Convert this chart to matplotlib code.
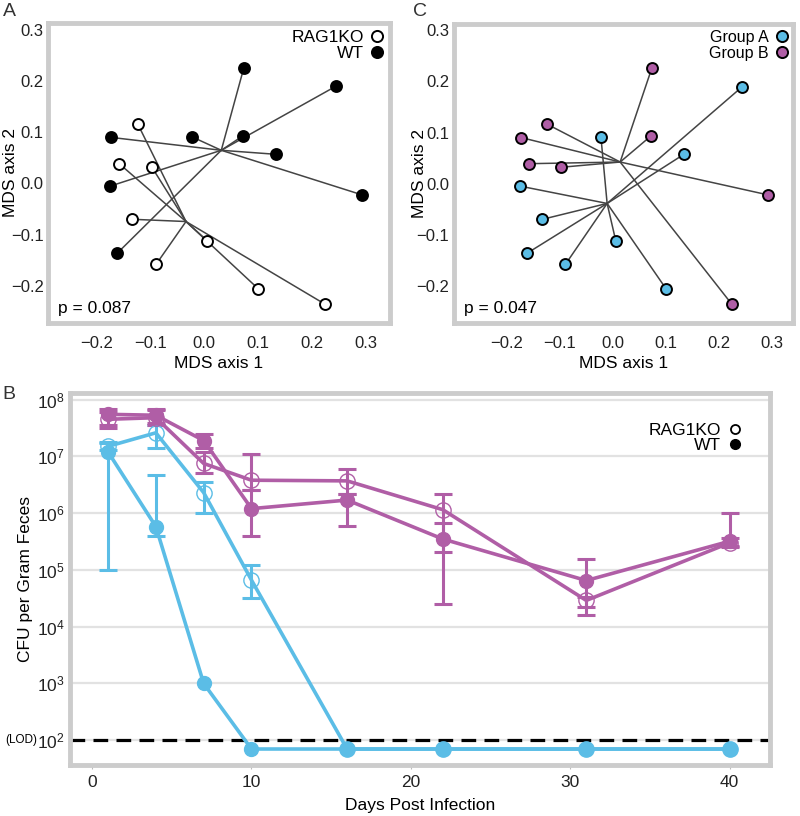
import numpy as np
import matplotlib
matplotlib.use("Agg")
import matplotlib.pyplot as plt
from matplotlib.lines import Line2D
from matplotlib.transforms import blended_transform_factory

plt.rcParams['font.family'] = ['Liberation Sans', 'DejaVu Sans']
plt.rcParams['mathtext.default'] = 'regular'

# MDS ordination (same 17 samples in panels A and C)
mds_x = [0.074, 0.245, -0.172, -0.022, 0.072, 0.134, 0.293, -0.174, -0.161,
         -0.123, -0.158, -0.097, -0.133, 0.006, -0.089, 0.101, 0.225]
mds_y = [0.226, 0.190, 0.090, 0.091, 0.093, 0.057, -0.022, -0.005, -0.136,
         0.116, 0.039, 0.032, -0.070, -0.112, -0.158, -0.206, -0.236]
genotype = ['WT'] * 9 + ['RAG1KO'] * 8
group = ['B', 'A', 'B', 'A', 'B', 'A', 'B', 'A', 'A',
         'B', 'B', 'B', 'A', 'A', 'A', 'A', 'B']
p_genotype = 0.087
p_group = 0.047

# CFU time course (panel B)
days = [1, 4, 7, 10, 16, 22, 31, 40]
a_ko = [1.5e7, 2.6e7, 2.3e6, 6.6e4, 70, 70, 70, 70]
a_ko_lo = [1.3e7, 1.4e7, 1.0e6, 3.2e4, np.nan, np.nan, np.nan, np.nan]
a_ko_hi = [1.8e7, 3.5e7, 3.5e6, 1.2e5, np.nan, np.nan, np.nan, np.nan]
a_wt = [1.2e7, 5.8e5, 1.0e3, 70, 70, 70, 70, 70]
a_wt_lo = [1.0e5, 4.0e5, np.nan, np.nan, np.nan, np.nan, np.nan, np.nan]
a_wt_hi = [1.7e7, 4.7e6, np.nan, np.nan, np.nan, np.nan, np.nan, np.nan]
b_ko = [4.5e7, 4.8e7, 7.5e6, 3.8e6, 3.7e6, 1.15e6, 2.9e4, 3.0e5]
b_ko_lo = [3.2e7, 3.6e7, 5.0e6, 2.6e6, 2.2e6, 2.1e5, 2.2e4, 2.5e5]
b_ko_hi = [6.0e7, 6.5e7, 1.2e7, 1.1e7, 5.9e6, 2.2e6, 3.4e4, 3.7e5]
b_wt = [5.5e7, 5.3e7, 1.9e7, 1.2e6, 1.7e6, 3.5e5, 6.5e4, 3.2e5]
b_wt_lo = [3.5e7, 3.8e7, 1.4e7, 4.0e5, 6.0e5, 2.5e4, 1.6e4, 2.6e5]
b_wt_hi = [6.9e7, 6.8e7, 2.5e7, 2.6e6, 2.2e6, 6.7e5, 1.55e5, 1.02e6]
lod = 100

BLUE = '#5bbde6'
PURPLE = '#b05ea6'
FRAME = '#cccccc'
TXT = '#222222'


def style_frame(ax):
    for s in ax.spines.values():
        s.set_color(FRAME)
        s.set_linewidth(3.5)


def mds_panel(ax, labels, order, faces, edges, legend_names, pval, xlim, ylim,
              ylab_x, leg_size):
    x = np.array(mds_x)
    y = np.array(mds_y)
    lab = np.array(labels)
    # spokes to group centroids
    for g in order:
        m = lab == g
        cx, cy = x[m].mean(), y[m].mean()
        for xi, yi in zip(x[m], y[m]):
            ax.plot([cx, xi], [cy, yi], color='#444444', lw=1.1, zorder=1)
    for g in order:
        m = lab == g
        ax.scatter(x[m], y[m], s=62, facecolor=faces[g], edgecolor=edges[g],
                   linewidth=1.4, zorder=3)
    ax.set_xlim(*xlim)
    ax.set_ylim(*ylim)
    ticks = [-0.2, -0.1, 0.0, 0.1, 0.2, 0.3]
    names = ['\u22120.2', '\u22120.1', '0.0', '0.1', '0.2', '0.3']
    ax.set_xticks(ticks)
    ax.set_yticks(ticks)
    ax.set_xticklabels(names)
    ax.set_yticklabels(names)
    ax.tick_params(axis='x', length=0, labelsize=12, colors=TXT, pad=9)
    ax.tick_params(axis='y', length=0, labelsize=12, colors=TXT, pad=3)
    ax.set_xlabel('MDS axis 1', fontsize=12.5, labelpad=4)
    ax.set_ylabel('MDS axis 2', fontsize=12.5)
    ax.yaxis.set_label_coords(ylab_x, 0.5)
    style_frame(ax)
    ax.text(0.03, 0.025, f'p = {pval}', transform=ax.transAxes, fontsize=12.5,
            ha='left', va='bottom')
    handles = [Line2D([], [], ls='none', marker='o', markersize=8,
                      markerfacecolor=faces[g], markeredgecolor=edges[g],
                      markeredgewidth=1.4, label=n)
               for g, n in zip(legend_names[0], legend_names[1])]
    ax.legend(handles=handles, loc='upper right', frameon=False,
              markerfirst=False, fontsize=leg_size, handlelength=0.6,
              handletextpad=0.5, labelspacing=0.05, borderaxespad=0.2,
              borderpad=0.2)


fig = plt.figure(figsize=(8, 8.16), dpi=100)

# Panel A
axA = fig.add_axes([0.06, 0.604, 0.427, 0.368])
mds_panel(axA, genotype, ['RAG1KO', 'WT'],
          {'RAG1KO': 'white', 'WT': 'black'},
          {'RAG1KO': 'black', 'WT': 'black'},
          (['RAG1KO', 'WT'], ['RAG1KO', 'WT']),
          p_genotype, (-0.29, 0.345), (-0.273, 0.314), -0.088, 12.5)

# Panel C
axC = fig.add_axes([0.567, 0.604, 0.424, 0.367])
mds_panel(axC, group, ['A', 'B'],
          {'A': BLUE, 'B': PURPLE},
          {'A': 'black', 'B': 'black'},
          (['A', 'B'], ['Group A', 'Group B']),
          p_group, (-0.30, 0.34), (-0.273, 0.313), -0.078, 11.5)

# Panel B
axB = fig.add_axes([0.088, 0.062, 0.874, 0.456])
axB.set_yscale('log')
axB.set_xlim(-1.36, 42.5)
axB.set_ylim(36, 1.29e8)
axB.set_yticks([1e2, 1e3, 1e4, 1e5, 1e6, 1e7, 1e8])
axB.minorticks_off()
axB.grid(axis='y', color='#e2e2e2', lw=1.6, zorder=0)
axB.set_axisbelow(True)
axB.axhline(lod, color='black', lw=2.3, dashes=(4.6, 2.6), zorder=2)

series = [
    (a_ko, a_ko_lo, a_ko_hi, BLUE, False),
    (a_wt, a_wt_lo, a_wt_hi, BLUE, True),
    (b_ko, b_ko_lo, b_ko_hi, PURPLE, False),
    (b_wt, b_wt_lo, b_wt_hi, PURPLE, True),
]
for vals, lo, hi, col, filled in series:
    v = np.array(vals)
    err = np.array([v - np.array(lo), np.array(hi) - v])
    err = np.nan_to_num(err, nan=0.0)
    has = ~np.isnan(np.array(lo))
    d = np.array(days)
    axB.errorbar(d[has], v[has], yerr=err[:, has], fmt='none', ecolor=col,
                 elinewidth=2.2, capsize=6.5, capthick=2.2, zorder=3)
    axB.plot(d, v, color=col, lw=2.6, marker='o', markersize=10 if filled else 11,
             markerfacecolor=col if filled else 'none', markeredgecolor=col,
             markeredgewidth=1.0, zorder=4)

axB.set_xticks([0, 10, 20, 30, 40])
axB.tick_params(axis='x', length=3, colors='#bbbbbb', labelsize=12.5, pad=4)
for t in axB.get_xticklabels():
    t.set_color(TXT)
axB.tick_params(axis='y', length=0, labelsize=12.5, labelcolor=TXT, pad=4)
axB.set_xlabel('Days Post Infection', fontsize=12.5, labelpad=6)
axB.set_ylabel('CFU per Gram Feces', fontsize=12.5)
axB.yaxis.set_label_coords(-0.054, 0.5)
style_frame(axB)
tr = blended_transform_factory(axB.transAxes, axB.transData)
axB.text(-0.048, lod, '(LOD)', transform=tr, fontsize=8.5, ha='right', va='center')
hB = [Line2D([], [], ls='none', marker='o', markersize=6.5, markerfacecolor='white',
             markeredgecolor='black', markeredgewidth=1.3, label='RAG1KO'),
      Line2D([], [], ls='none', marker='o', markersize=7, markerfacecolor='black',
             markeredgecolor='black', label='WT')]
axB.legend(handles=hB, loc='upper right', frameon=False, markerfirst=False,
           fontsize=12.5, handlelength=0.6, handletextpad=0.5, labelspacing=0.0,
           borderaxespad=1.3, borderpad=0.4)

fig.text(0.004, 0.986, 'A', fontsize=14, ha='left', va='center', color='#333333')
fig.text(0.516, 0.986, 'C', fontsize=14, ha='left', va='center', color='#333333')
fig.text(0.003, 0.516, 'B', fontsize=14, ha='left', va='center', color='#333333')

fig.savefig('out.png', dpi=100)
